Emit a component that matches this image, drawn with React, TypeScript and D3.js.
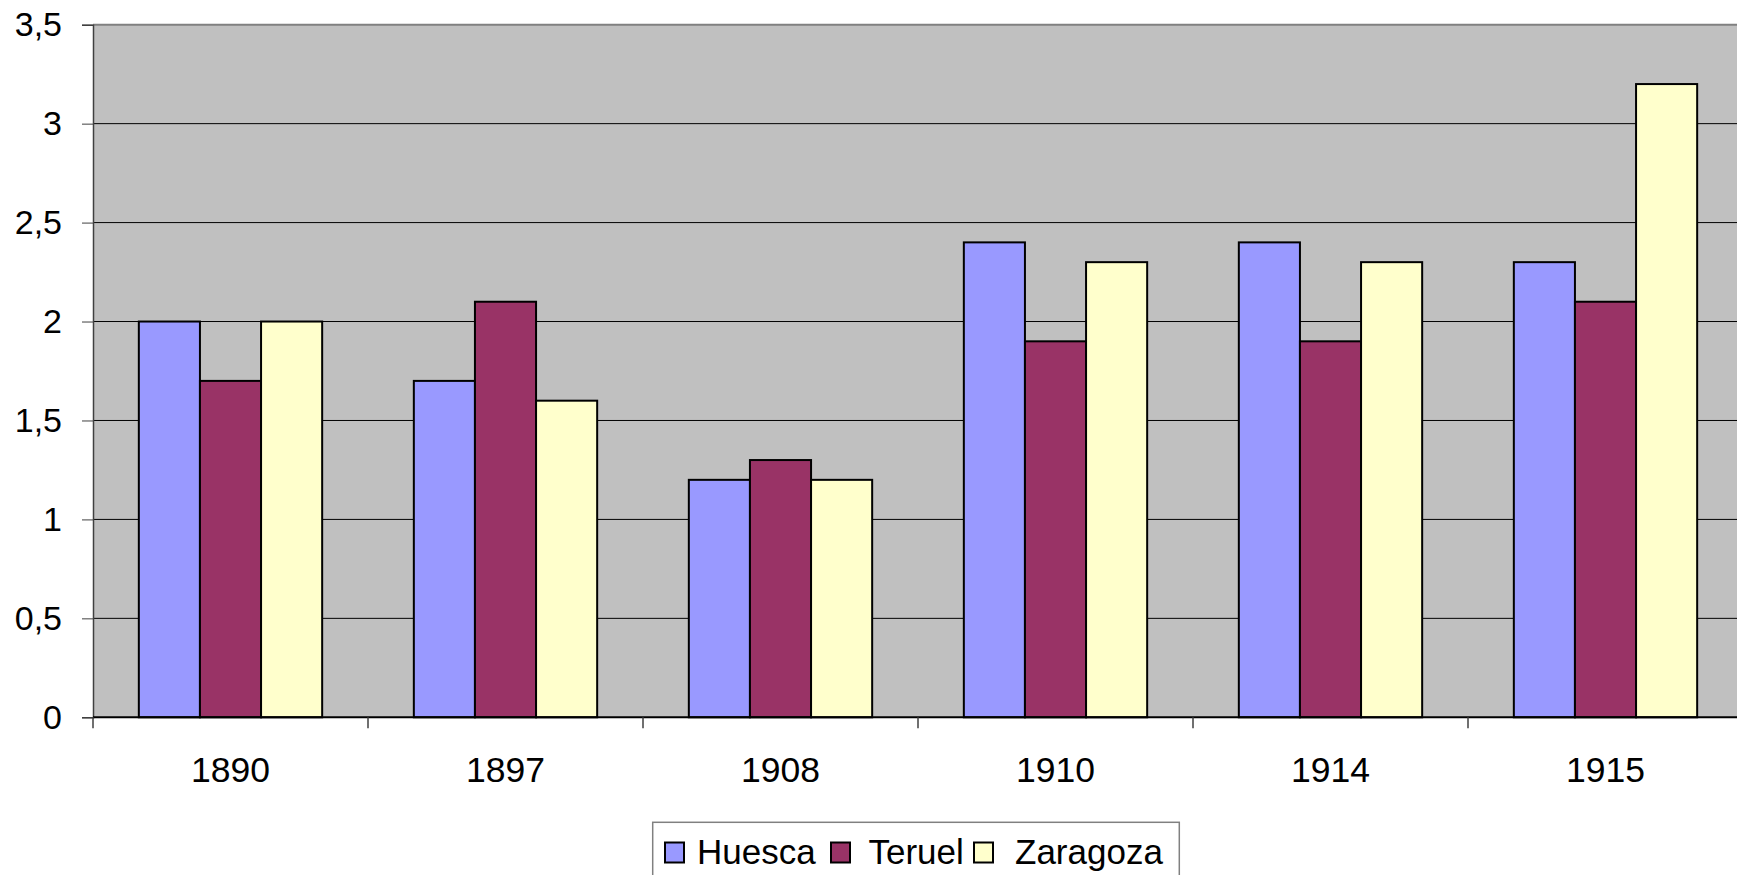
import React, { useEffect, useRef } from 'react'
import * as d3 from 'd3'

const years = ['1890', '1897', '1908', '1910', '1914', '1915']
const seriesNames = ['Huesca', 'Teruel', 'Zaragoza']
const huesca = [2, 1.7, 1.2, 2.4, 2.4, 2.3]
const teruel = [1.7, 2.1, 1.3, 1.9, 1.9, 2.1]
const zaragoza = [2, 1.6, 1.2, 2.3, 2.3, 3.2]
const colors = ['#9999FF', '#993366', '#FFFFCC']
const yTicks = [0, 0.5, 1, 1.5, 2, 2.5, 3, 3.5]

const W = 1737
const H = 875

export default function App() {
    const ref = useRef<SVGSVGElement>(null)

    useEffect(() => {
        const svg = d3.select(ref.current)
        const font = 'Arial, "Liberation Sans", sans-serif'

        const left = 93, top = 24.7, bottom = 717.3
        const step = 275

        const x = d3.scaleBand()
            .domain(years)
            .range([left, left + step * years.length])
            .paddingInner(1 / 3)
            .paddingOuter(1 / 6)

        const xs = d3.scaleBand()
            .domain(seriesNames)
            .range([0, x.bandwidth()])

        const y = d3.scaleLinear()
            .domain([0, 3.5])
            .range([bottom, top])

        const data = [huesca, teruel, zaragoza]

        // plot background
        svg.append('rect')
            .attr('x', left).attr('y', top)
            .attr('width', step * years.length).attr('height', bottom - top)
            .attr('fill', '#C0C0C0')

        // gridlines
        svg.append('g').selectAll('line')
            .data(yTicks.filter(d => d > 0))
            .join('line')
            .attr('x1', left).attr('x2', left + step * years.length)
            .attr('y1', d => y(d)).attr('y2', d => y(d))
            .attr('stroke', d => d === 3.5 ? '#808080' : '#000')
            .attr('stroke-width', d => d === 3.5 ? 2 : 1)

        // bars
        seriesNames.forEach((s, si) => {
            svg.append('g').selectAll('rect')
                .data(data[si])
                .join('rect')
                .attr('x', (d, i) => x(years[i])! + xs(s)!)
                .attr('y', d => y(d))
                .attr('width', xs.bandwidth())
                .attr('height', d => bottom - y(d))
                .attr('fill', colors[si])
                .attr('stroke', '#000')
                .attr('stroke-width', 2)
        })

        // y axis
        const yAxis = d3.axisLeft(y)
            .tickValues(yTicks)
            .tickSize(11)
            .tickPadding(20)
            .tickFormat(d => String(d).replace('.', ','))
        const gY = svg.append('g')
            .attr('transform', `translate(${left},0)`)
            .call(yAxis)
        gY.select('.domain').attr('stroke', '#404040').attr('stroke-width', 1.5)
        gY.selectAll('.tick line').attr('stroke', '#404040')
        gY.selectAll('.tick text')
            .attr('font-family', font).attr('font-size', 34).attr('fill', '#000')

        // x axis
        svg.append('line')
            .attr('x1', left).attr('x2', left + step * years.length)
            .attr('y1', bottom).attr('y2', bottom)
            .attr('stroke', '#000').attr('stroke-width', 2)

        svg.append('g').selectAll('line')
            .data(d3.range(years.length + 1))
            .join('line')
            .attr('x1', i => left + i * step).attr('x2', i => left + i * step)
            .attr('y1', bottom).attr('y2', bottom + 11)
            .attr('stroke', '#404040').attr('stroke-width', 1.5)

        svg.append('g').selectAll('text')
            .data(years)
            .join('text')
            .attr('x', d => x(d)! + x.bandwidth() / 2)
            .attr('y', 781.5)
            .attr('text-anchor', 'middle')
            .attr('font-family', font).attr('font-size', 35.5)
            .text(d => d)

        // legend
        const lg = svg.append('g')
        lg.append('rect')
            .attr('x', 652.7).attr('y', 822.3)
            .attr('width', 526.6).attr('height', 70)
            .attr('fill', '#fff').attr('stroke', '#808080').attr('stroke-width', 1.5)

        const swatchX = [665, 831, 974]
        const labelX = [697, 868.5, 1015]
        seriesNames.forEach((s, i) => {
            lg.append('rect')
                .attr('x', swatchX[i]).attr('y', 842.5)
                .attr('width', 19).attr('height', 20)
                .attr('fill', colors[i]).attr('stroke', '#000').attr('stroke-width', 2)
            lg.append('text')
                .attr('x', labelX[i]).attr('y', 864)
                .attr('font-family', font).attr('font-size', 35)
                .text(s)
        })

        return () => { svg.selectAll('*').remove() }
    }, [])

    return (
        <div style={{ position: 'fixed', left: 0, top: 0 }}>
            <svg ref={ref} width={W} height={H} style={{ display: 'block', background: '#fff' }} />
        </div>
    )
}
